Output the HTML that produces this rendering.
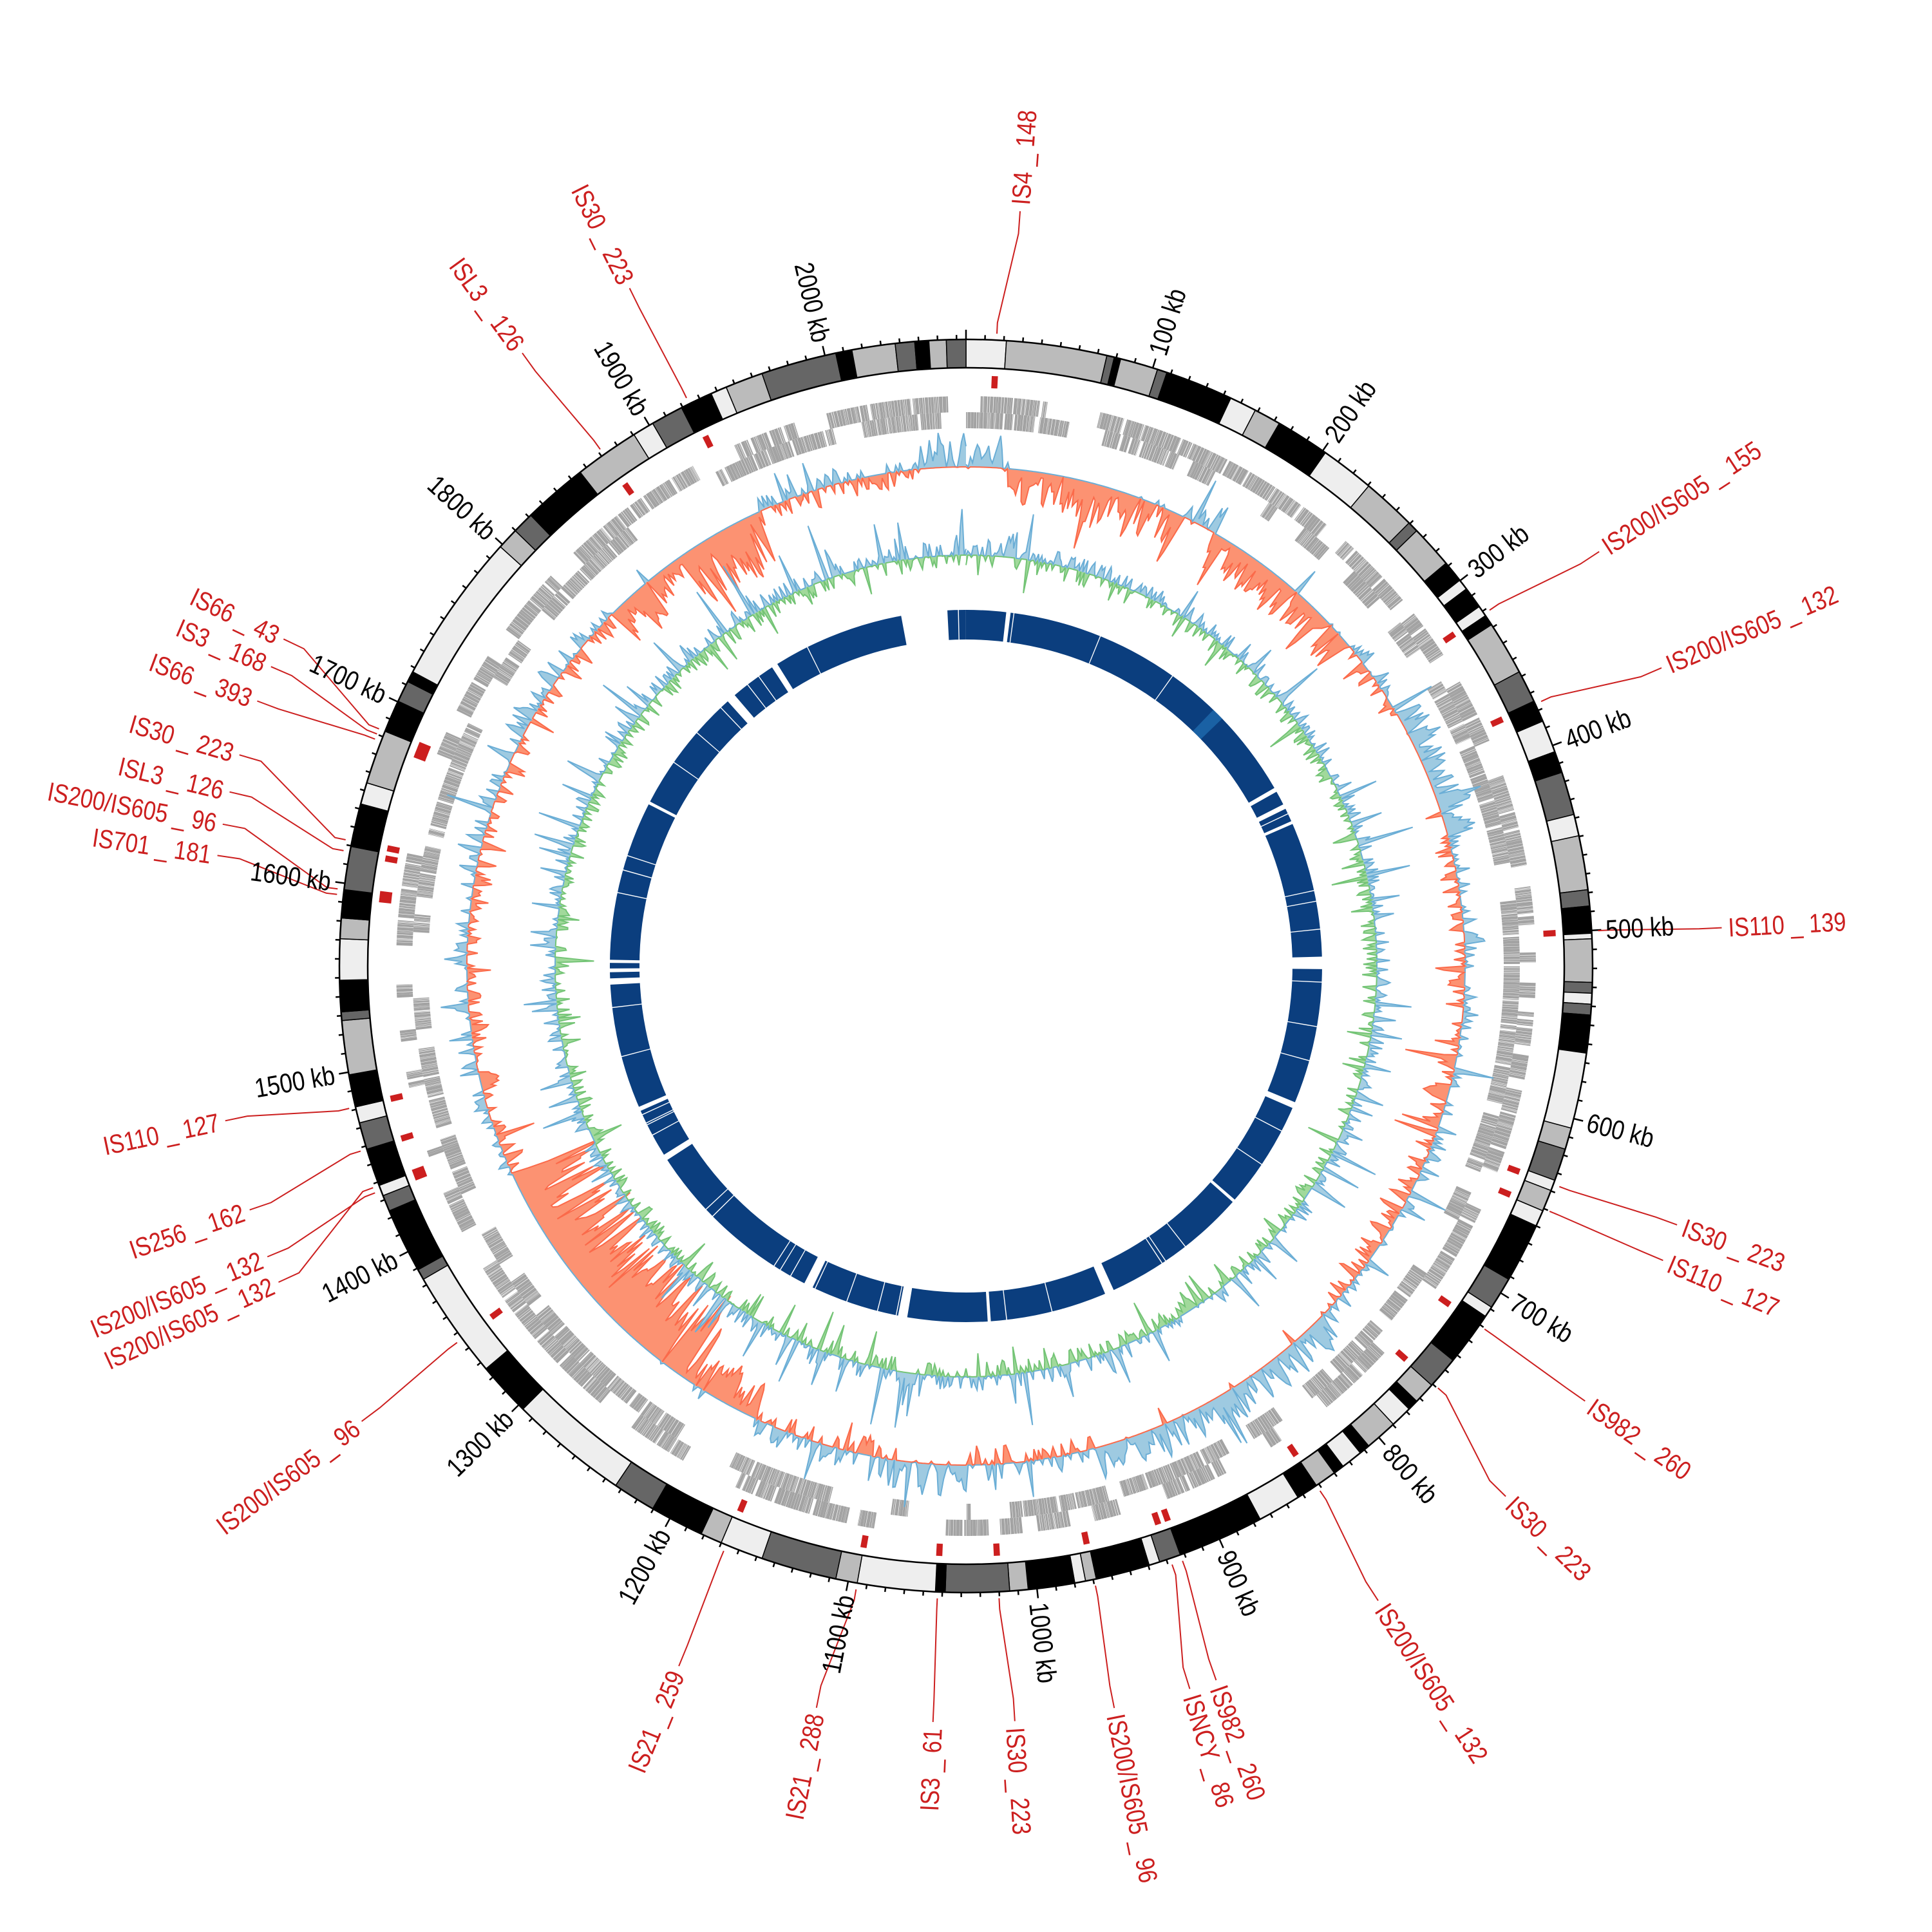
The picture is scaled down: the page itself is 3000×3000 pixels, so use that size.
<!DOCTYPE html>
<html><head><meta charset="utf-8">
<style>
html,body{margin:0;padding:0;background:#fff;}
svg{display:block;}
text{font-family:"Liberation Sans Narrow","Liberation Sans",sans-serif;}
.kb{font-size:42px;fill:#000;}
.is{font-size:41px;fill:#cc1f1f;}
</style></head>
<body>
<svg id="s" xmlns="http://www.w3.org/2000/svg" width="3000" height="3000" viewBox="0 0 3000 3000">
<rect width="3000" height="3000" fill="#fff"/>
<g id="gen"></g>
<g id="kbl">
<text class="kb">100 kb</text><text class="kb">200 kb</text><text class="kb">300 kb</text><text class="kb">400 kb</text><text class="kb">500 kb</text><text class="kb">600 kb</text><text class="kb">700 kb</text><text class="kb">800 kb</text><text class="kb">900 kb</text><text class="kb">1000 kb</text><text class="kb">1100 kb</text><text class="kb">1200 kb</text><text class="kb">1300 kb</text><text class="kb">1400 kb</text><text class="kb">1500 kb</text><text class="kb">1600 kb</text><text class="kb">1700 kb</text><text class="kb">1800 kb</text><text class="kb">1900 kb</text><text class="kb">2000 kb</text>
</g>
<g id="isl">
<text class="is">IS4 _ 148</text>
<text class="is">IS30 _ 223</text>
<text class="is">ISL3 _ 126</text>
<text class="is">IS200/IS605 _ 155</text>
<text class="is">IS200/IS605 _ 132</text>
<text class="is">IS110 _ 139</text>
<text class="is">IS30 _ 223</text>
<text class="is">IS110 _ 127</text>
<text class="is">IS982 _ 260</text>
<text class="is">IS30 _ 223</text>
<text class="is">IS200/IS605 _ 132</text>
<text class="is">IS982 _ 260</text>
<text class="is">ISNCY _ 86</text>
<text class="is">IS200/IS605 _ 96</text>
<text class="is">IS30 _ 223</text>
<text class="is">IS3 _ 61</text>
<text class="is">IS21 _ 288</text>
<text class="is">IS21 _ 259</text>
<text class="is">IS200/IS605 _ 96</text>
<text class="is">IS200/IS605 _ 132</text>
<text class="is">IS200/IS605 _ 132</text>
<text class="is">IS256 _ 162</text>
<text class="is">IS110 _ 127</text>
<text class="is">IS701 _ 181</text>
<text class="is">IS200/IS605 _ 96</text>
<text class="is">ISL3 _ 126</text>
<text class="is">IS30 _ 223</text>
<text class="is">IS66 _ 393</text>
<text class="is">IS3 _ 168</text>
<text class="is">IS66 _ 43</text>
</g>
</svg>
<script>
(function(){
var cx=1500,cy=1500,L=2075;
function P(a,r){var t=a*Math.PI/180;return [(cx+r*Math.sin(t)).toFixed(1),(cy-r*Math.cos(t)).toFixed(1)];}
function sector(a0,a1,r0,r1){var lg=(a1-a0)>180?1:0;var p1=P(a0,r1),p2=P(a1,r1),p3=P(a1,r0),p4=P(a0,r0);
return 'M'+p1+'A'+r1+','+r1+' 0 '+lg+' 1 '+p2+'L'+p3+'A'+r0+','+r0+' 0 '+lg+' 0 '+p4+'Z';}
var seed=12345;function rnd(){seed|=0;seed=seed+0x6D2B79F5|0;var t=Math.imul(seed^seed>>>15,1|seed);t=t+Math.imul(t^t>>>7,61|t)^t;return((t^t>>>14)>>>0)/4294967296;}
var out=[];
var C={W:'#eeeeee',L:'#bbbbbb',D:'#666666',K:'#000000'};
var B=[[0,3.7,'W'],[3.7,13,'L'],[13,13.7,'D'],[13.7,14.3,'K'],[14.3,17.8,'L'],[17.8,18.7,'D'],[18.7,25,'K'],[25,27.5,'W'],[27.5,30,'L'],[30,35,'K'],[35,40,'W'],[40,45,'L'],[45,46,'D'],[46,50,'L'],[50,52,'K'],[52,53,'W'],[53,55,'K'],[55,56,'W'],[56,57,'K'],[57,62,'L'],[62,65,'D'],[65,67,'K'],[67,70,'W'],[70,72,'K'],[72,76,'D'],[76,78,'W'],[78,83,'L'],[83,84.5,'D'],[84.5,87,'K'],[87,87.5,'W'],[87.5,91.5,'L'],[91.5,92.5,'D'],[92.5,93.5,'W'],[93.5,94.5,'D'],[94.5,98,'K'],[98,105,'W'],[105,107,'L'],[107,110,'D'],[110,111,'W'],[111,113,'L'],[113,114.5,'W'],[114.5,120,'K'],[120,123,'D'],[123,124,'W'],[124,129,'K'],[129,132,'D'],[132,134,'L'],[134,135,'K'],[135,137,'W'],[137,140,'L'],[140,141,'K'],[141,143,'W'],[143,144,'K'],[144,146,'L'],[146,148,'K'],[148,152,'W'],[152,160,'K'],[160,162,'D'],[162,163,'W'],[163,168,'K'],[168,169,'L'],[169,170,'W'],[170,174.3,'K'],[174.3,176,'L'],[176,181.9,'D'],[181.9,182.8,'K'],[182.8,190,'W'],[190,192,'L'],[192,199,'D'],[199,203,'W'],[203,205,'L'],[205,210,'K'],[210,214,'D'],[214,225,'W'],[225,230,'K'],[230,240,'W'],[240,241,'D'],[241,247,'K'],[247,248.5,'D'],[248.5,249.5,'W'],[249.5,253,'K'],[253,255.5,'D'],[255.5,257,'W'],[257,260,'K'],[260,265,'L'],[265,265.8,'D'],[265.8,268.7,'K'],[268.7,272.5,'W'],[272.5,274.4,'L'],[274.4,277,'K'],[277,281,'D'],[281,285,'K'],[285,287,'W'],[287,292,'L'],[292,295,'K'],[295,297,'D'],[297,298,'K'],[298,312,'W'],[312,314,'L'],[314,316,'D'],[316,322,'K'],[322,328,'L'],[328,330,'W'],[330,333,'D'],[333,336,'K'],[336,337.5,'W'],[337.5,341,'L'],[341,348,'D'],[348,349.5,'K'],[349.5,353.5,'L'],[353.5,355.3,'D'],[355.3,356.6,'K'],[356.6,358.2,'L'],[358.2,360,'D']];
B.forEach(function(b){out.push('<path d="'+sector(b[0],b[1],929,973)+'" fill="'+C[b[2]]+'" stroke="#000" stroke-width="1.5"/>');});
out.push('<circle cx="1500" cy="1500" r="973" fill="none" stroke="#000" stroke-width="2.5"/>');
out.push('<circle cx="1500" cy="1500" r="929" fill="none" stroke="#000" stroke-width="2.5"/>');
var tk='';for(var k=0;k<L;k+=10){var a=k*360/L;var r2=(k%100==0)?988:980;var p=P(a,973),q=P(a,r2);tk+='M'+p+'L'+q;}
out.push('<path d="'+tk+'" stroke="#000" stroke-width="2.5" fill="none"/>');
function genes(r0,r1,fill){var a=0,d='';while(a<360){var on=rnd()<0.72;var len=0.4+rnd()*3.5;var end=Math.min(360,a+len);if(on){var g=a;while(g<end){var w=0.05+rnd()*0.3;var e=Math.min(end,g+w);d+=sector(g,e,r0,r1);g=e+0.01+rnd()*0.04;}}a=end+(on?0.05+rnd()*0.3:0);}
out.push('<path d="'+d+'" fill="'+fill+'"/>');}
genes(860,885,'#a3a3a3');genes(835,860,'#a3a3a3');
var gaps=[[349.5,357],[6.5,7.2],[60,60.7],[63,63.8],[66,66.5],[88.5,90.5],[112.5,113.5],[131,131.5],[155.5,157],[176,176.5],[189.5,191],[205.5,207],[237,238],[246,246.7],[267,268],[269,269.6],[270.5,271],[297,297.5],[318,319.5],[327,328]];
out.push('<path d="'+sector(0,359.99,507,553)+'" fill="#0b3e7e"/>');
var gp='';gaps.forEach(function(g){gp+=sector(g[0],g[1],504,556);});
for(var i=0;i<45;i++){var a=rnd()*360;gp+=sector(a,a+0.15,504,556);}
out.push('<path d="'+gp+'" fill="#fff"/>');
out.push('<path d="'+sector(44,46,507,553)+'" fill="#2171b5" opacity="0.7"/>');
function series(step,base,fn,posFill,posStroke,negFill,negStroke,sw){
var n=Math.round(360/step);var vals=[];for(var i=0;i<=n;i++)vals.push(fn(i*step));
var pp=[],np=[],bp=[];
for(var i=0;i<=n;i++){var a=i*step;pp.push(P(a,base+Math.max(vals[i],0)).join(','));np.push(P(a,base+Math.min(vals[i],0)).join(','));bp.push(P(a,base).join(','));}
var br=bp.slice().reverse().join(' ');
out.push('<polygon points="'+pp.join(' ')+' '+br+'" fill="'+posFill+'"/>');
out.push('<polygon points="'+np.join(' ')+' '+br+'" fill="'+negFill+'"/>');
out.push('<polyline points="'+pp.join(' ')+'" fill="none" stroke="'+posStroke+'" stroke-width="'+sw+'"/>');
out.push('<polyline points="'+np.join(' ')+'" fill="none" stroke="'+negStroke+'" stroke-width="'+sw+'"/>');}
var sv=0;
function inR(a,x,y){return a>=x&&a<y;}
series(0.25,775,function(a){
 var bias=0,amp=35;
 if(inR(a,5,26)||inR(a,30,50)||inR(a,205,240)||inR(a,315,330))bias=-35;
 if(inR(a,215,245)){bias=-90;amp=70;}
 if(inR(a,325,335)){bias=-55;amp=50;}
 if(inR(a,355,360)||inR(a,0,4)||inR(a,26,30)||inR(a,135,165)||inR(a,180,190)||inR(a,60,75))bias=25;
 if(inR(a,100,130))bias=-8;
 sv=0.3*sv+0.7*((rnd()-0.5)*2*amp+bias);
 var v=sv;if(rnd()<0.12)v+=(rnd()-0.5)*110;
 return v;},'#9ecae1','#6baed6','#fc9272','#fb6a4a',2);
series(0.25,638,function(a){
 var n=(rnd()-0.5)*2;var v=n*22;
 if(rnd()<0.14)v+=(rnd()-0.4)*120;
 if(inR(a,5,7))v+=60*rnd();
 return v;},'#a6cee3','#6baed6','#a1d99b','#74c476',2);
var IS=[[2.8,4.1],[333.8,333.6],[324.7,324.1],[55.8,56.8],[65.3,66.8],[86.8,87.1],[110.4,110],[112.8,112.9],[125,125.1],[131.8,134.5],[146,147],[160,160.7],[161,162.8],[168.2,168.7],[177,176.3],[182.6,182.5],[190,191.4],[202.5,202.3],[233.5,233],[249,247.4],[249.5,245.3],[253,251.2],[257,258.2],[276.5,278.4],[277,280.8],[280.5,283.3],[281.5,286.2],[291,290.5],[291.5,293.3],[292,295.6]];
var ld='',mk='';
IS.forEach(function(s){var m=s[0],l=s[1];
 ld+='M'+P(m,983)+'L'+P(m,1000)+'L'+P(l,1140)+'L'+P(l,1175);
 mk+=sector(m-0.3,m+0.3,898,917);});
out.push('<path d="'+ld+'" fill="none" stroke="#cc1f1f" stroke-width="2"/>');
out.push('<path d="'+mk+'" fill="#cc1f1f"/>');
document.getElementById('gen').innerHTML=out.join('');
function place(t,a,r){var p=P(a,r);
 if(a>0&&a<=180){t.setAttribute('text-anchor','start');t.setAttribute('transform','translate('+p+') rotate('+(a-90)+') scale(0.84,1)');}
 else{t.setAttribute('text-anchor','end');t.setAttribute('transform','translate('+p+') rotate('+(a+90)+') scale(0.84,1)');}
 t.setAttribute('dy','0.35em');}
var kt=document.querySelectorAll('#kbl text');
for(var i=0;i<kt.length;i++){place(kt[i],(i+1)*100*360/L,995);}
var it=document.querySelectorAll('#isl text');
for(var i=0;i<it.length;i++){place(it[i],IS[i][1],1185);}
})();
</script>
</body></html>
